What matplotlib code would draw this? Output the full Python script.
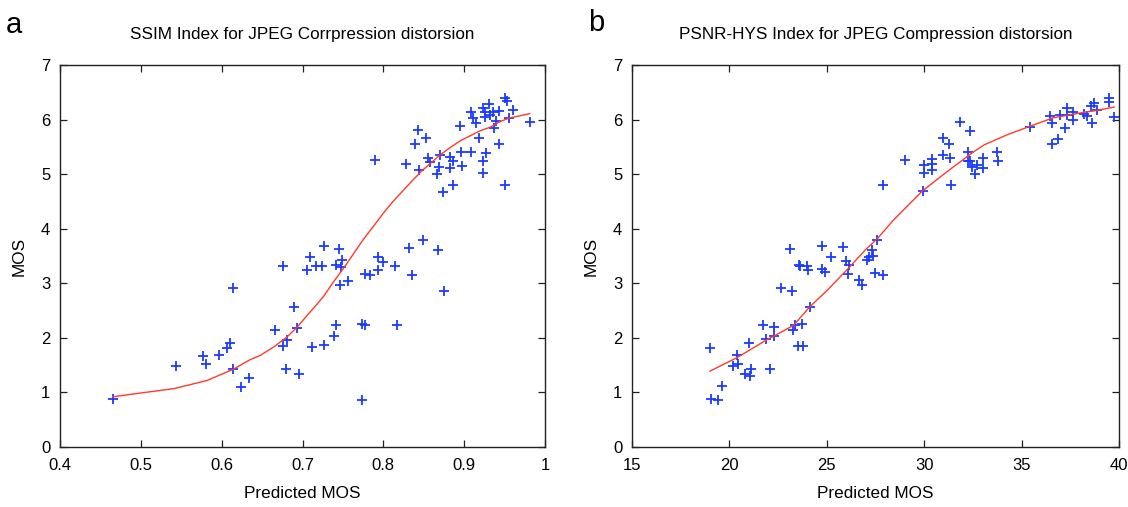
import matplotlib
matplotlib.use("Agg")
import matplotlib.pyplot as plt

# -------------------------
# Datos
# -------------------------
ssim_x = [0.465, 0.543, 0.577, 0.580, 0.597, 0.607, 0.610, 0.614, 0.614, 0.624, 0.634,
          0.666, 0.676, 0.681, 0.679, 0.676, 0.689, 0.693, 0.696, 0.705, 0.709, 0.712,
          0.717, 0.724, 0.726, 0.727, 0.739, 0.742, 0.742, 0.745, 0.746, 0.749, 0.747,
          0.756, 0.773, 0.777, 0.774, 0.777, 0.783, 0.790, 0.793, 0.793, 0.799, 0.814,
          0.817, 0.832, 0.836, 0.849, 0.868, 0.875,
          0.828, 0.839, 0.843, 0.844, 0.853, 0.855, 0.858, 0.866, 0.869, 0.870, 0.874,
          0.882, 0.882, 0.886, 0.886, 0.895, 0.896, 0.897, 0.908, 0.909, 0.911, 0.914,
          0.918, 0.923, 0.923, 0.927, 0.923, 0.926, 0.926, 0.931, 0.932, 0.936, 0.939,
          0.937, 0.943, 0.943, 0.950, 0.950, 0.953, 0.956, 0.960, 0.981]
ssim_y = [0.88, 1.48, 1.67, 1.52, 1.69, 1.82, 1.91, 2.91, 1.43, 1.10, 1.27,
          2.14, 1.85, 1.97, 1.43, 3.31, 2.56, 2.19, 1.33, 3.24, 3.49, 1.835,
          3.32, 3.32, 1.865, 3.69, 2.03, 2.23, 3.33, 3.63, 2.97, 3.43, 3.30,
          3.05, 2.26, 2.23, 0.86, 3.17, 3.16, 5.26, 3.49, 3.24, 3.39, 3.32,
          2.23, 3.645, 3.16, 3.80, 3.61, 2.86,
          5.18, 5.55, 5.80, 5.07, 5.66, 5.29, 5.22, 5.01, 5.14, 5.35, 4.68,
          5.31, 5.12, 5.25, 4.80, 5.875, 5.41, 5.155, 5.41, 6.13, 6.03, 5.94,
          5.66, 5.25, 5.02, 5.38, 6.22, 6.14, 6.05, 6.28, 6.08, 6.13, 5.97,
          5.85, 6.155, 5.55, 4.80, 6.40, 6.34, 6.03, 6.17, 5.96]

ssim_fit_x = [0.465, 0.500, 0.541, 0.582, 0.615, 0.635, 0.648, 0.666, 0.681, 0.693,
              0.705, 0.718, 0.726, 0.738, 0.751, 0.763, 0.775, 0.788, 0.800, 0.812,
              0.825, 0.837, 0.849, 0.860, 0.870, 0.882, 0.895, 0.907, 0.919, 0.932,
              0.944, 0.956, 0.969, 0.981]
ssim_fit_y = [0.92, 0.99, 1.07, 1.22, 1.43, 1.60, 1.68, 1.85, 2.02, 2.19,
              2.40, 2.62, 2.76, 3.02, 3.28, 3.54, 3.80, 4.05, 4.285, 4.50,
              4.71, 4.90, 5.08, 5.22, 5.35, 5.48, 5.61, 5.70, 5.79, 5.86,
              5.96, 6.03, 6.07, 6.11]

psnr_x = [19.01, 19.04, 19.43, 19.64, 20.16, 20.40, 20.46, 20.79, 21.03, 21.08, 21.10,
          21.71, 21.88, 22.06, 22.29, 22.30, 22.64, 23.10, 23.23, 23.25, 23.36, 23.50,
          23.78, 23.75, 23.60, 23.56, 24.00, 24.02, 24.14, 24.76, 24.77, 24.91, 25.24,
          25.81, 25.98, 26.11, 26.12, 26.64, 26.79, 27.07, 27.18, 27.33, 27.37, 27.49,
          27.57, 27.87, 27.87, 29.04, 29.92, 29.97, 30.00, 30.38, 30.42, 30.38, 30.96,
          30.99, 31.25, 31.33, 31.37, 31.83, 32.33, 32.23, 32.25, 32.37, 32.45, 32.69,
          32.59, 33.00, 33.00, 33.73, 33.78, 35.41, 36.45, 36.57, 36.57, 36.87, 36.96,
          37.21, 37.31, 37.33, 37.63, 37.63, 38.20, 38.38, 38.55, 38.62, 38.70, 38.85,
          39.49, 39.51, 39.72]
psnr_y = [1.81, 0.88, 0.86, 1.11, 1.48, 1.68, 1.52, 1.34, 1.91, 1.30, 1.43,
          2.24, 1.98, 1.43, 2.20, 2.03, 2.91, 3.63, 2.85, 2.14, 2.24, 1.86,
          1.85, 2.25, 3.31, 3.33, 3.32, 3.25, 2.56, 3.69, 3.27, 3.20, 3.49,
          3.66, 3.40, 3.17, 3.33, 3.06, 2.97, 3.43, 3.49, 3.61, 3.50, 3.18,
          3.80, 3.16, 4.80, 5.26, 4.69, 5.02, 5.17, 5.08, 5.28, 5.18, 5.66,
          5.36, 5.55, 5.30, 4.80, 5.96, 5.79, 5.41, 5.25, 5.25, 5.14, 5.17,
          5.01, 5.30, 5.12, 5.40, 5.25, 5.87, 6.06, 5.93, 5.55, 5.65, 6.08,
          5.85, 6.22, 6.08, 6.13, 6.00, 6.10, 6.06, 6.25, 5.94, 6.30, 6.17,
          6.40, 6.32, 6.04]

psnr_fit_x = [19.0, 20.4, 21.8, 23.3, 24.1, 25.1, 26.2, 27.0, 27.6, 28.4,
              29.9, 31.3, 32.5, 33.1, 34.25, 35.45, 36.6, 38.0, 38.9, 39.75]
psnr_fit_y = [1.39, 1.64, 1.94, 2.23, 2.56, 2.90, 3.31, 3.62, 3.82, 4.15,
              4.69, 5.08, 5.40, 5.54, 5.72, 5.88, 6.03, 6.12, 6.17, 6.23]

titles = ["SSIM Index for JPEG Corrpression distorsion",
          "PSNR-HYS Index for JPEG Compression distorsion"]
ssim_ticks = [0.4, 0.5, 0.6, 0.7, 0.8, 0.9, 1.0]
ssim_ticklabels = ["0.4", "0.5", "0.6", "0.7", "0.8", "0.9", "1"]
psnr_ticks = [15, 20, 25, 30, 35, 40]
mos_ticks = [0, 1, 2, 3, 4, 5, 6, 7]

plt.rcParams["font.family"] = ["Liberation Sans", "DejaVu Sans"]

fig = plt.figure(figsize=(11.28, 5.07), dpi=100)
ax1 = fig.add_axes([0.0532, 0.1183, 0.430, 0.7535])
ax2 = fig.add_axes([0.5603, 0.1183, 0.4317, 0.7535])


def style_axis(ax, title):
    ax.set_ylim(0, 7)
    ax.set_yticks(mos_ticks)
    ax.set_title(title, fontsize=12.3, pad=19)
    ax.set_xlabel("Predicted MOS", fontsize=12.3, labelpad=9)
    ax.set_ylabel("MOS", fontsize=12.3, labelpad=10)
    ax.tick_params(direction="in", top=True, right=True, length=5,
                   width=0.9, labelsize=12, color="#222222")
    ax.tick_params(axis="x", pad=8)
    ax.tick_params(axis="y", pad=7)
    for s in ax.spines.values():
        s.set_linewidth(1.0)
        s.set_color("#222222")


# Panel a: SSIM
ax1.plot(ssim_x, ssim_y, "+", color="#1a3cff", markersize=6.5, mew=1.3)
ax1.plot(ssim_fit_x, ssim_fit_y, "-", color="#ff3a2a", linewidth=1.0)
ax1.set_xlim(0.4, 1.0)
ax1.set_xticks(ssim_ticks)
ax1.set_xticklabels(ssim_ticklabels)
style_axis(ax1, titles[0])

# Panel b: PSNR-HVS
ax2.plot(psnr_x, psnr_y, "+", color="#1a3cff", markersize=6.5, mew=1.3)
ax2.plot(psnr_fit_x, psnr_fit_y, "-", color="#ff3a2a", linewidth=1.0)
ax2.set_xlim(15, 40)
ax2.set_xticks(psnr_ticks)
style_axis(ax2, titles[1])

fig.text(0.005, 0.935, "a", fontsize=21)
fig.text(0.521, 0.938, "b", fontsize=21)

fig.savefig("out.png", dpi=100)
